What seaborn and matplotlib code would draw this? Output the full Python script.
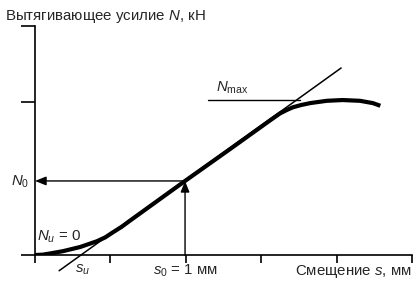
import matplotlib
matplotlib.use("Agg")
import matplotlib.pyplot as plt
import seaborn as sns
import pandas as pd

# curve: displacement s vs pull-out force N (arbitrary units)
s_vals = [0.0, 0.10, 0.20, 0.37, 0.60, 0.82, 0.93, 1.03, 1.15, 1.26, 1.66, 1.99, 2.59, 3.12,
          3.25, 3.34, 3.42, 3.53, 3.65, 3.87, 4.08, 4.31, 4.48, 4.58]
n_vals = [0.0, 0.004, 0.02, 0.05, 0.105, 0.18, 0.23, 0.295, 0.37, 0.45, 0.735, 0.97, 1.39, 1.765,
          1.855, 1.90, 1.935, 1.965, 1.99, 2.02, 2.03, 2.02, 1.99, 1.955]
tangent_s = [0.32, 4.06]
tangent_n = [-0.206, 2.45]
s0 = 1.99
n0 = 0.97
nmax = 2.03
nmax_line_s = [2.29, 3.51]
x_ticks = [0, 1, 2, 3, 4, 5]
y_ticks = [0, 2, 3]

sns.set_style("white")
plt.rcParams['font.family'] = ['Liberation Sans', 'DejaVu Sans']
plt.rcParams['mathtext.fontset'] = 'custom'
plt.rcParams['mathtext.rm'] = 'Liberation Sans'
plt.rcParams['mathtext.it'] = 'Liberation Sans:italic'
plt.rcParams['mathtext.bf'] = 'Liberation Sans:bold'

W, H = 418, 288
fig = plt.figure(figsize=(W / 100, H / 100), dpi=100)
ax = fig.add_axes([35 / W, (H - 255) / H, 377 / W, 229 / H])

df = pd.DataFrame({"s": s_vals, "N": n_vals})
sns.lineplot(data=df, x="s", y="N", sort=False, color="black", linewidth=3.0,
             ax=ax, solid_capstyle="butt", solid_joinstyle="round")
ax.plot(tangent_s, tangent_n, color="black", linewidth=1.1, clip_on=False)
ax.plot(nmax_line_s, [nmax, nmax], color="black", linewidth=1.0)

ap = dict(arrowstyle="-|>,head_length=0.55,head_width=0.22", color="black",
          lw=1.0, shrinkA=0, shrinkB=0, mutation_scale=12)
ax.annotate("", xy=(0, n0), xytext=(s0, n0), arrowprops=ap)
ax.annotate("", xy=(s0, n0), xytext=(s0, 0), arrowprops=ap)

ax.set_xlim(0, 5)
ax.set_ylim(0, 3)
ax.set_xticks(x_ticks)
ax.set_yticks(y_ticks)
ax.set_xticklabels([])
ax.set_yticklabels([])
ax.tick_params(axis="x", direction="out", length=6, width=1.2, color="black", bottom=True)
ax.tick_params(axis="y", direction="out", length=10, width=1.2, color="black", left=True)
for side in ["top", "right"]:
    ax.spines[side].set_visible(False)
for side in ["left", "bottom"]:
    ax.spines[side].set_color("black")
    ax.spines[side].set_linewidth(1.2)
ax.set_xlabel("")
ax.set_ylabel("")

fs = 10.8
def ftext(px, py, s, **kw):
    fig.text(px / W, 1 - py / H, s, fontsize=fs, va="baseline", **kw)

ftext(5, 20, "Вытягивающее усилие $N$, кН", ha="left")
ftext(11, 186, "$N_0$", ha="left")
ftext(37, 241, "$N_u$ = 0", ha="left")
ftext(75, 273, "$s_u$", ha="left")
ftext(153, 275, "$s_0$ = 1 мм", ha="left")
ftext(412, 275, "Смещение $s$, мм", ha="right")
ftext(216, 92, r"$N_{\mathrm{max}}$", ha="left")

fig.savefig("out.png", dpi=100)
